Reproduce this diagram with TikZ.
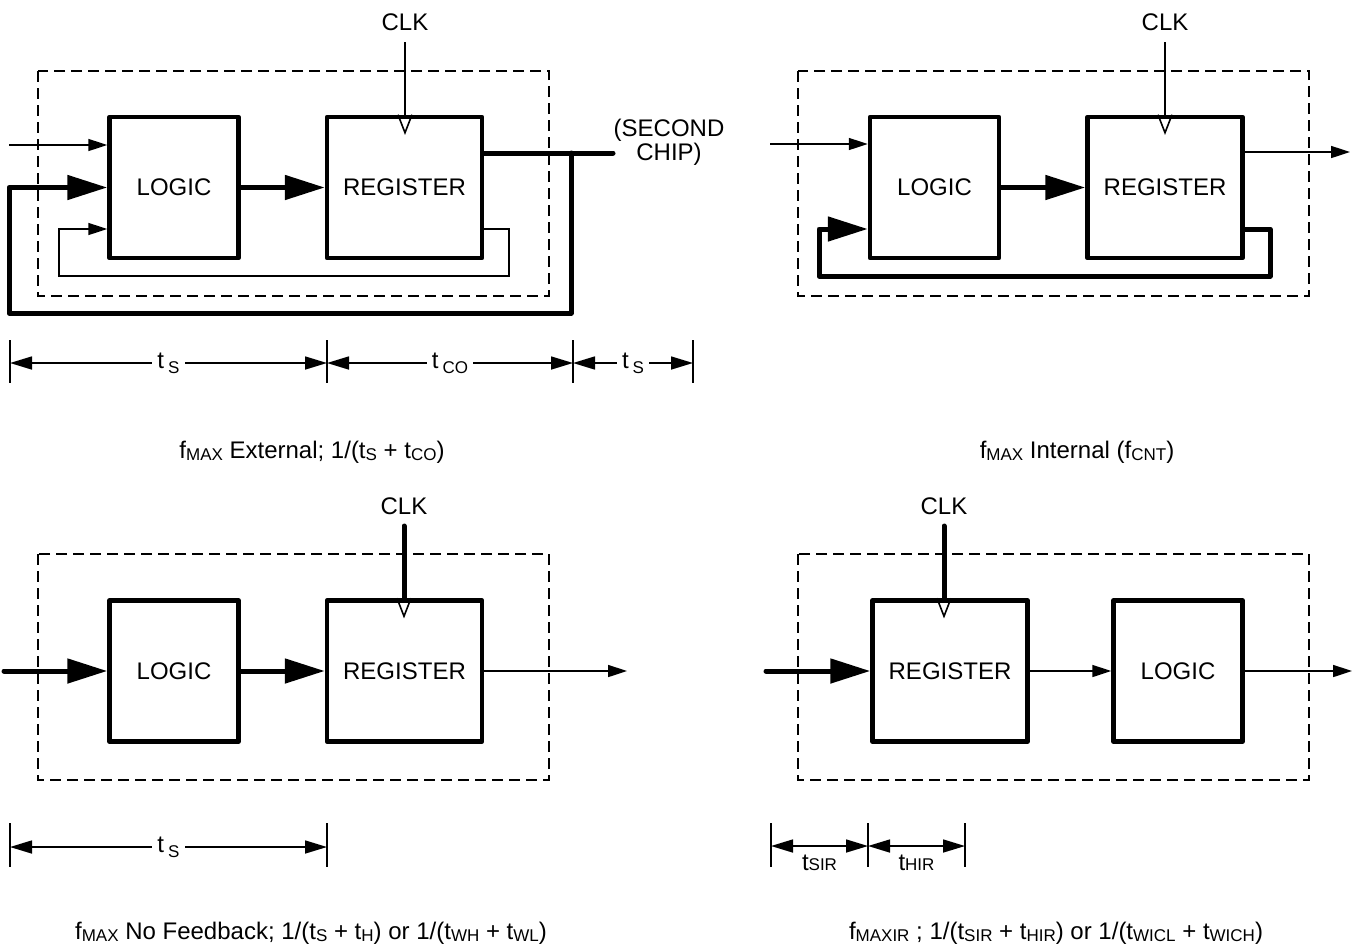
\documentclass[tikz,border=0pt]{standalone}
\usepackage{fontspec}
\setmainfont{Liberation Sans}
\usetikzlibrary{arrows.meta}
\newcommand{\lowsub}[2][-0.15ex]{\raisebox{#1}{\fontsize{8.5pt}{9pt}\selectfont #2}}

\begin{document}
\begin{tikzpicture}[
    x=0.5pt, y=-0.5pt,
    font=\fontsize{12pt}{14pt}\selectfont,
    blk/.style={draw, line width=2.25pt, line join=round, minimum height=70.5pt, inner sep=0pt},
    logicblk/.style={blk, minimum width=64.5pt},
    regblk/.style={blk, minimum width=77.5pt},
    chip/.style={line width=0.75pt, dash pattern=on 5.5pt off 3pt},
    wire/.style={line width=0.8pt},
    thk/.style={line width=2.5pt, line cap=round, line join=round},
    wirearr/.style={wire, -{Triangle[length=9.5pt,width=6pt]}},
    thkarr/.style={thk, -{Triangle[length=20pt,width=12pt]}},
    dimarr/.style={wire, {Triangle[length=11pt,width=6.5pt]}-{Triangle[length=11pt,width=6.5pt]}},
    dimlab/.style={fill=white, inner sep=2.5pt},
]
    \useasboundingbox (0,0) rectangle (1359,948);

    % External
    \draw[chip] (38,71) rectangle (549,296);
    \node[logicblk] (logA) at (174,187.5) {LOGIC};
    \node[regblk] (regA) at (404.5,187.5) {REGISTER};
    \node (clkA) at (405,22) {CLK};
    \coordinate (ckA) at (405,42);
    \draw[wire] (ckA) -- (ckA |- regA.north);
    \draw[wire] (ckA |- regA.north) ++(-7,0) -- ++(7,18) -- ++(7,-18);
    \coordinate (inA) at (9,145);
    \draw[wirearr] (inA) -- (inA -| logA.west);
    \draw[thkarr] (logA) -- (regA);
    % feedback inside the chip
    \coordinate (fbA1) at (509,229);
    \coordinate (fbA2) at (59,276);
    \draw[wirearr] (regA.east |- fbA1) -- (fbA1) |- (fbA2) |- (logA.west |- fbA1);
    % through the second chip
    \coordinate (outA) at (613,153);
    \coordinate (tapA) at (571,153);
    \coordinate (lpA) at (9,313);
    \draw[thk] (regA.east |- outA) -- (outA);
    \draw[thkarr] (tapA) |- (lpA) |- (logA.west);
    \node[align=center, font=\fontsize{12pt}{10.5pt}\selectfont] (scA) at (669,142) {(SECOND\\CHIP)};
    % timing
    \coordinate (dA1) at (10,363);
    \coordinate (dA2) at (327,363);
    \coordinate (dA3) at (573,363);
    \coordinate (dA4) at (693,363);
    \foreach \d in {dA1,dA2,dA3,dA4}
        \draw[wire] (\d) ++(0,-23) -- ++(0,43);
    \draw[dimarr] (dA1) -- node[dimlab] (tsA) {t\kern2pt\lowsub[-2.5pt]{S}} (dA2);
    \draw[dimarr] (dA2) -- node[dimlab] (tcoA) {t\kern2pt\lowsub[-2.5pt]{CO}} (dA3);
    \draw[dimarr] (dA3) -- node[dimlab] (tsA2) {t\kern2pt\lowsub[-2.5pt]{S}} (dA4);
    \node (capA) at (312,452) {f\lowsub{MAX} External; 1/(t\lowsub{S} + t\lowsub{CO})};

    % Internal
    \draw[chip] (798,71) rectangle (1309,296);
    \node[logicblk] (logB) at (934.5,187.5) {LOGIC};
    \node[regblk] (regB) at (1165,187.5) {REGISTER};
    \node (clkB) at (1165,22) {CLK};
    \coordinate (ckB) at (1165,42);
    \draw[wire] (ckB) -- (ckB |- regB.north);
    \draw[wire] (ckB |- regB.north) ++(-7,0) -- ++(7,18) -- ++(7,-18);
    \coordinate (inB) at (770,144);
    \draw[wirearr] (inB) -- (inB -| logB.west);
    \draw[thkarr] (logB) -- (regB);
    \coordinate (outB) at (1350,152);
    \draw[wirearr] (regB.east |- outB) -- (outB);
    \coordinate (fbB1) at (1270,229);
    \coordinate (fbB2) at (819,276);
    \draw[thkarr] (regB.east |- fbB1) -- (fbB1) |- (fbB2) |- (logB.west |- fbB1);
    \node (capB) at (1077,452) {f\lowsub{MAX} Internal (f\lowsub{CNT})};

    % No feedback
    \draw[chip] (38,554) rectangle (549,780);
    \node[logicblk] (logC) at (174,671) {LOGIC};
    \node[regblk] (regC) at (404.5,671) {REGISTER};
    \node (clkC) at (404,506) {CLK};
    \coordinate (ckC) at (404,526);
    \draw[thk] (ckC) -- (ckC |- regC.north);
    \draw[wire] (ckC |- regC.north) ++(-7,0) -- ++(7,18) -- ++(7,-18);
    \coordinate (inC) at (4,671);
    \draw[thkarr] (inC) -- (logC);
    \draw[thkarr] (logC) -- (regC);
    \coordinate (outC) at (627,671);
    \draw[wirearr] (regC) -- (outC);
    \coordinate (dC1) at (10,847);
    \coordinate (dC2) at (327,847);
    \foreach \d in {dC1,dC2}
        \draw[wire] (\d) ++(0,-24) -- ++(0,44);
    \draw[dimarr] (dC1) -- node[dimlab] (tsC) {t\kern2pt\lowsub[-2.5pt]{S}} (dC2);
    \node (capC) at (311,933) {f\lowsub{MAX} No Feedback; 1/(t\lowsub{S} + t\lowsub{H}) or 1/(t\lowsub{WH} + t\lowsub{WL})};

    % Internal register
    \draw[chip] (798,554) rectangle (1309,780);
    \node[regblk] (regD) at (950,671) {REGISTER};
    \node[logicblk] (logD) at (1178,671) {LOGIC};
    \node (clkD) at (944,506) {CLK};
    \coordinate (ckD) at (944,526);
    \draw[thk] (ckD) -- (ckD |- regD.north);
    \draw[wire] (ckD |- regD.north) ++(-7,0) -- ++(7,18) -- ++(7,-18);
    \coordinate (inD) at (766,671);
    \draw[thkarr] (inD) -- (regD);
    \draw[wirearr] (regD) -- (logD);
    \coordinate (outD) at (1352,671);
    \draw[wirearr] (logD) -- (outD);
    \coordinate (dD1) at (771,846);
    \coordinate (dD2) at (868,846);
    \coordinate (dD3) at (965,846);
    \foreach \d in {dD1,dD2,dD3}
        \draw[wire] (\d) ++(0,-23) -- ++(0,44);
    \draw[dimarr] (dD1) -- node[below=1pt] (tsirD) {t\lowsub[0pt]{SIR}} (dD2);
    \draw[dimarr] (dD2) -- node[below=1pt] (thirD) {t\lowsub[0pt]{HIR}} (dD3);
    \node (capD) at (1056,933) {f\lowsub{MAXIR} ; 1/(t\lowsub{SIR} + t\lowsub{HIR}) or 1/(t\lowsub{WICL} + t\lowsub{WICH})};
\end{tikzpicture}
\end{document}
